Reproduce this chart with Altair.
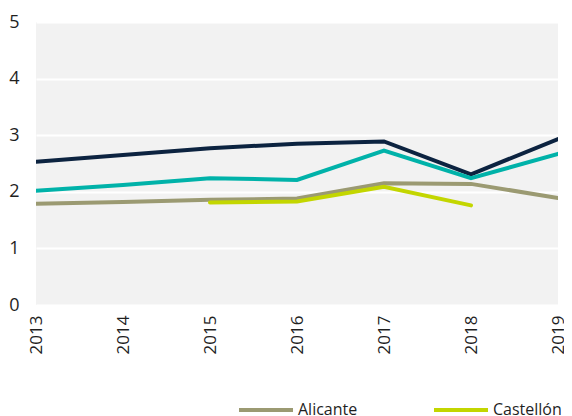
import altair as alt
import pandas as pd

years = [2013, 2014, 2015, 2016, 2017, 2018, 2019]
series_names = ["Comunitat Valenciana", "Valencia", "Alicante", "Castellón"]
navy = [2.53, 2.65, 2.77, 2.85, 2.89, 2.31, 2.93]
teal = [2.02, 2.12, 2.24, 2.21, 2.73, 2.24, 2.67]
alicante = [1.79, 1.82, 1.86, 1.88, 2.15, 2.14, 1.89]
castellon = [None, None, 1.81, 1.83, 2.09, 1.76, None]
colors = ["#0c2340", "#00b2a9", "#9b9a72", "#c3d600"]

rows = []
for name, vals in zip(series_names, [navy, teal, alicante, castellon]):
    for y, v in zip(years, vals):
        if v is not None:
            rows.append({"year": y, "value": v, "serie": name})
df = pd.DataFrame(rows)

font = "Open Sans"
chart = alt.Chart(df).mark_line(strokeWidth=4, strokeCap="round", clip=True).encode(
    x=alt.X("year:Q", scale=alt.Scale(domain=[2013, 2019], nice=False, zero=False),
            axis=alt.Axis(values=years, format="d", labelAngle=-90, grid=False,
                          domain=False, ticks=False, labelPadding=10,
                          labelFontSize=17, labelColor="#1f1f1f", labelFont=font,
                          title=None, labelFlush=False)),
    y=alt.Y("value:Q", scale=alt.Scale(domain=[0, 5], nice=False),
            axis=alt.Axis(values=[0, 1, 2, 3, 4, 5], grid=True, gridColor="white",
                          gridWidth=2, domain=False, ticks=False, labelPadding=17,
                          labelFontSize=18, labelColor="#1f1f1f", labelFont=font,
                          title=None)),
    color=alt.Color("serie:N", sort=series_names,
                    scale=alt.Scale(domain=series_names, range=colors),
                    legend=alt.Legend(values=["Alicante", "Castellón"], orient="none",
                                      legendX=201, legendY=359, direction="horizontal",
                                      columns=2, columnPadding=68, symbolType="stroke",
                                      symbolSize=2916, symbolStrokeWidth=4,
                                      labelFontSize=16, labelFont=font,
                                      labelColor="#1f1f1f", labelOffset=3,
                                      title=None, padding=0)),
    order=alt.Order("year:Q"),
).properties(
    width=522, height=283,
    autosize=alt.AutoSizeParams(type="none"),
    padding={"left": 28, "top": 14, "right": 6, "bottom": 111},
).configure_view(fill="#f2f2f2", stroke=None)

chart.save("out.html", embed_options={"renderer": "svg", "actions": False})
